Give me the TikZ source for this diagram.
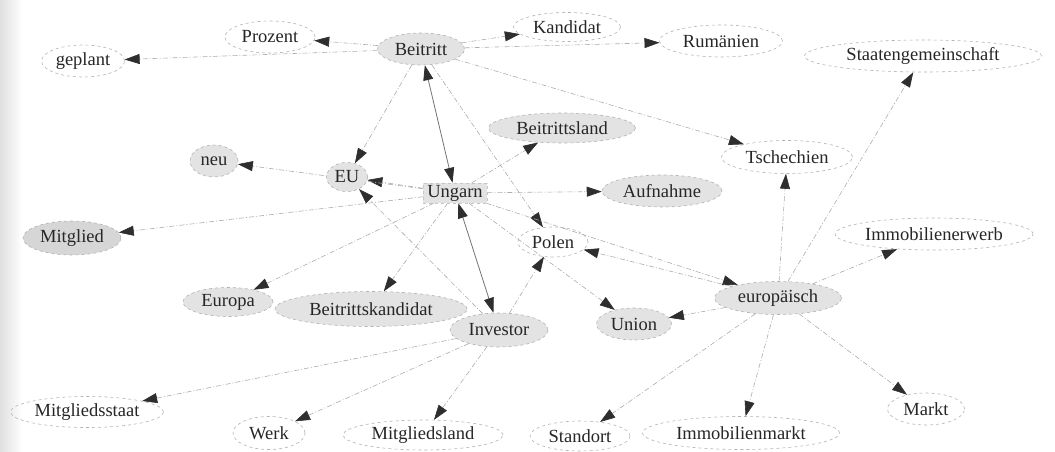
\documentclass[tikz,border=0pt]{standalone}
\usepackage{fontspec}
\setmainfont{Liberation Serif}
\usetikzlibrary{arrows.meta,shapes.geometric,backgrounds}
\begin{document}
\begin{tikzpicture}[x=1pt,y=-1pt,
  every node/.style={font=\fontsize{18.5}{20}\selectfont, text=black!85, inner sep=0pt},
  nd/.style 2 args={ellipse, draw=gray!60, dashed, line width=0.6pt, minimum width=#1, minimum height=#2},
  gf/.style={fill=gray!22},
  gd/.style={fill=gray!32},
  bx/.style={rectangle, draw=gray!45, dashed, line width=0.5pt, fill=gray!22, minimum width=64, minimum height=20},
  ed/.style={draw=gray!65, line width=0.6pt, dash pattern=on 5pt off 2pt on 1pt off 2pt,
    -{Triangle[length=15pt,width=10pt,color=black!82]}},
  bd/.style={draw=black!55, line width=0.8pt,
    {Triangle[length=15pt,width=10pt,color=black!82]}-{Triangle[length=15pt,width=10pt,color=black!82]}}
]
\useasboundingbox (0,0) rectangle (1055,452);
\fill[left color=gray!25, right color=white] (0,0) rectangle (22,452);

% nodes
\node[nd={83}{32}] (geplant) at (83,61) {geplant};
\node[nd={90}{32}] (prozent) at (270,37) {Prozent};
\node[nd={87}{32},gf] (beitritt) at (421,49) {Beitritt};
\node[nd={107}{29}] (kandidat) at (567,27) {Kandidat};
\node[nd={123}{32}] (rumaenien) at (721,41) {Rumänien};
\node[nd={237}{32}] (staaten) at (923,56) {Staatengemeinschaft};
\node[nd={147}{30},gf] (beitrittsland) at (562,128) {Beitrittsland};
\node[nd={48}{32},gf] (neu) at (214,161) {neu};
\node[nd={41}{29},gf] (eu) at (347,177) {EU};
\node[bx] (ungarn) at (455,193) {Ungarn};
\node[nd={120}{32},gf] (aufnahme) at (662,191) {Aufnahme};
\node[nd={131}{33}] (tschechien) at (787,157) {Tschechien};
\node[nd={98}{34},gd] (mitglied) at (72,238) {Mitglied};
\node[nd={70}{30}] (polen) at (553,242) {Polen};
\node[nd={198}{32}] (immoerwerb) at (934,234) {Immobilienerwerb};
\node[nd={90}{29},gf] (europa) at (228,302) {Europa};
\node[nd={192}{35},gf] (bkandidat) at (371,309) {Beitrittskandidat};
\node[nd={98}{34},gf] (investor) at (499,330) {Investor};
\node[nd={75}{32},gf] (union) at (634,324) {Union};
\node[nd={127}{33},gf] (europaeisch) at (778,298) {europäisch};
\node[nd={153}{31}] (mstaat) at (87,412) {Mitgliedsstaat};
\node[nd={72}{33}] (werk) at (269,433) {Werk};
\node[nd={160}{30}] (mland) at (423,435) {Mitgliedsland};
\node[nd={100}{30}] (standort) at (580,436) {Standort};
\node[nd={197}{33}] (immomarkt) at (741,433) {Immobilienmarkt};
\node[nd={77}{32}] (markt) at (926,409) {Markt};

% edges
\begin{scope}[on background layer]
\draw[ed] (beitritt) -- (prozent);
\draw[ed] (beitritt) -- (geplant);
\draw[ed] (beitritt) -- (kandidat);
\draw[ed] (beitritt) -- (rumaenien);
\draw[ed] (beitritt) -- (tschechien);
\draw[ed] (beitritt) -- (eu);
\draw[ed] (beitritt) -- (polen);
\draw[bd] (beitritt) -- (ungarn);

\draw[ed] (ungarn) -- (eu);
\draw[ed] (ungarn) -- (neu);
\draw[ed] (ungarn) -- (beitrittsland);
\draw[ed] (ungarn) -- (aufnahme);
\draw[ed] (ungarn) -- (mitglied);
\draw[ed] (ungarn) -- (europa);
\draw[ed] (ungarn) -- (bkandidat);
\draw[ed] (ungarn) -- (union);
\draw[ed] (ungarn) -- (europaeisch);
\draw[bd] (ungarn) -- (investor);

\draw[ed] (investor) -- (eu);
\draw[ed] (investor) -- (polen);
\draw[ed] (investor) -- (mstaat);
\draw[ed] (investor) -- (werk);
\draw[ed] (investor) -- (mland);

\draw[ed] (europaeisch) -- (polen);
\draw[ed] (europaeisch) -- (tschechien);
\draw[ed] (europaeisch) -- (staaten);
\draw[ed] (europaeisch) -- (immoerwerb);
\draw[ed] (europaeisch) -- (union);
\draw[ed] (europaeisch) -- (standort);
\draw[ed] (europaeisch) -- (immomarkt);
\draw[ed] (europaeisch) -- (markt);
\end{scope}
\end{tikzpicture}
\end{document}
